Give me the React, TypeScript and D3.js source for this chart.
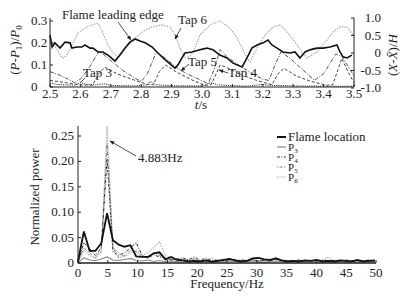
import React from "react";
import * as d3 from "d3";

// ---------- Top chart data ----------
const timeTicks = [2.5, 2.6, 2.7, 2.8, 2.9, 3.0, 3.1, 3.2, 3.3, 3.4, 3.5];
const leftTicks = [0, 0.1, 0.2, 0.3];
const rightTicks = [-1, -0.5, 0, 0.5, 1];

const flameT = [2.5, 2.507, 2.516, 2.533, 2.549, 2.566, 2.572, 2.589, 2.605, 2.615, 2.632, 2.641, 2.658, 2.674, 2.691, 2.714, 2.73, 2.747, 2.763, 2.78, 2.796, 2.813, 2.836, 2.855, 2.872, 2.888, 2.911, 2.921, 2.934, 2.944, 2.967, 2.993, 3.016, 3.036, 3.059, 3.082, 3.102, 3.132, 3.148, 3.164, 3.181, 3.201, 3.217, 3.23, 3.247, 3.266, 3.289, 3.306, 3.322, 3.339, 3.355, 3.378, 3.398, 3.421, 3.444, 3.454, 3.464, 3.477, 3.493];
const flameX = [0.51, 0.17, 0.29, 0.14, 0.31, 0.29, 0.14, 0.17, 0.17, 0.23, 0.14, 0.14, 0.03, 0.03, -0.06, -0.23, -0.06, 0.14, 0.31, 0.4, 0.34, 0.29, 0.17, 0.0, -0.14, -0.26, -0.43, -0.34, -0.14, 0.0, 0.03, 0.09, 0.14, 0.09, -0.06, -0.14, -0.29, -0.4, -0.14, 0.14, 0.23, 0.29, 0.37, 0.23, 0.14, 0.03, 0.0, 0.03, -0.14, 0.03, 0.09, 0.14, 0.14, 0.17, 0.23, 0.03, -0.11, -0.14, -0.06];

const tap6T = [2.5, 2.52, 2.54, 2.553, 2.572, 2.592, 2.615, 2.638, 2.658, 2.674, 2.691, 2.707, 2.724, 2.747, 2.78, 2.813, 2.836, 2.868, 2.895, 2.911, 2.928, 2.944, 2.961, 2.977, 2.993, 3.026, 3.059, 3.092, 3.115, 3.132, 3.148, 3.158, 3.181, 3.207, 3.234, 3.257, 3.28, 3.306, 3.329, 3.345, 3.378, 3.411, 3.431, 3.454, 3.477, 3.497];
const tap6P = [0.227, 0.177, 0.132, 0.14, 0.19, 0.245, 0.268, 0.282, 0.291, 0.245, 0.19, 0.155, 0.136, 0.177, 0.223, 0.259, 0.273, 0.282, 0.273, 0.236, 0.177, 0.132, 0.14, 0.177, 0.236, 0.282, 0.3, 0.268, 0.223, 0.177, 0.132, 0.114, 0.177, 0.236, 0.273, 0.282, 0.25, 0.205, 0.159, 0.132, 0.159, 0.214, 0.25, 0.273, 0.273, 0.236];

const tap5T = [2.5, 2.53, 2.56, 2.58, 2.6, 2.63, 2.66, 2.67, 2.7, 2.74, 2.78, 2.8, 2.82, 2.85, 2.88, 2.92, 2.95, 2.99, 3.02, 3.04, 3.06, 3.08, 3.12, 3.16, 3.2, 3.22, 3.24, 3.26, 3.29, 3.33, 3.37, 3.4, 3.44, 3.46, 3.5];
const tap5P = [0.07, 0.055, 0.035, 0.02, 0.035, 0.09, 0.16, 0.155, 0.12, 0.075, 0.04, 0.025, 0.06, 0.16, 0.13, 0.085, 0.06, 0.035, 0.015, 0.08, 0.17, 0.14, 0.1, 0.065, 0.035, 0.03, 0.1, 0.16, 0.13, 0.08, 0.03, 0.06, 0.15, 0.14, 0.05];

const tap4T = [2.5, 2.55, 2.6, 2.64, 2.66, 2.68, 2.72, 2.77, 2.82, 2.84, 2.86, 2.88, 2.92, 2.97, 3.01, 3.03, 3.06, 3.08, 3.13, 3.18, 3.23, 3.25, 3.27, 3.31, 3.36, 3.41, 3.43, 3.46, 3.48, 3.5];
const tap4P = [0.03, 0.02, 0.01, 0.008, 0.06, 0.09, 0.06, 0.035, 0.012, 0.01, 0.07, 0.1, 0.065, 0.03, 0.008, 0.01, 0.1, 0.09, 0.055, 0.03, 0.01, 0.06, 0.085, 0.05, 0.025, 0.008, 0.01, 0.13, 0.07, 0.02];

const tap3T = [2.5, 2.52, 2.55, 2.58, 2.6, 2.62, 2.65, 2.68, 2.7, 2.74, 2.78, 2.82, 2.83, 2.85, 2.9, 2.95, 3.0, 3.03, 3.05, 3.1, 3.15, 3.2, 3.22, 3.3, 3.35, 3.4, 3.45, 3.5];
const tap3P = [0.02, 0.012, 0.01, 0.008, 0.02, 0.012, 0.01, 0.015, 0.008, 0.006, 0.005, 0.01, 0.025, 0.01, 0.006, 0.005, 0.005, 0.02, 0.01, 0.006, 0.004, 0.012, 0.008, 0.005, 0.004, 0.004, 0.003, 0.004];

// ---------- Bottom chart data ----------
const freqTicks = [0, 5, 10, 15, 20, 25, 30, 35, 40, 45, 50];
const powerTicks = [0, 0.05, 0.1, 0.15, 0.2, 0.25];
const freqs = [0, 0.98, 1.95, 2.93, 3.91, 4.88, 5.86, 6.84, 7.81, 8.79, 9.77, 10.74, 11.72, 12.7, 13.67, 14.65, 15.63, 16.6, 17.58, 18.55, 19.53, 20.51, 21.48, 22.46, 23.44, 24.41, 25.39, 26.37, 27.34, 28.32, 29.3, 30.27, 31.25, 32.23, 33.2, 34.18, 35.16, 36.13, 37.11, 38.09, 39.06, 40.04, 41.02, 41.99, 42.97, 43.95, 44.92, 45.9, 46.88, 47.85, 48.83, 49.8];
const flamePow = [0.003, 0.062, 0.024, 0.024, 0.039, 0.098, 0.045, 0.036, 0.032, 0.035, 0.013, 0.012, 0.012, 0.019, 0.021, 0.007, 0.012, 0.006, 0.005, 0.003, 0.004, 0.003, 0.005, 0.002, 0.004, 0.006, 0.008, 0.005, 0.003, 0.004, 0.009, 0.01, 0.007, 0.006, 0.009, 0.005, 0.003, 0.004, 0.003, 0.005, 0.004, 0.006, 0.003, 0.004, 0.003, 0.005, 0.004, 0.003, 0.006, 0.003, 0.004, 0.005];
const p3Pow = [0.001, 0.01, 0.006, 0.005, 0.008, 0.012, 0.006, 0.005, 0.007, 0.009, 0.005, 0.004, 0.006, 0.003, 0.005, 0.003, 0.004, 0.003, 0.002, 0.003, 0.002, 0.003, 0.002, 0.003, 0.002, 0.003, 0.004, 0.003, 0.002, 0.003, 0.004, 0.003, 0.002, 0.003, 0.004, 0.003, 0.002, 0.002, 0.003, 0.002, 0.003, 0.002, 0.003, 0.002, 0.002, 0.003, 0.002, 0.003, 0.002, 0.002, 0.003, 0.002];
const p4Pow = [0.002, 0.04, 0.028, 0.015, 0.03, 0.205, 0.022, 0.015, 0.02, 0.03, 0.04, 0.015, 0.01, 0.016, 0.012, 0.01, 0.006, 0.008, 0.01, 0.006, 0.012, 0.005, 0.01, 0.004, 0.006, 0.005, 0.008, 0.004, 0.006, 0.005, 0.007, 0.004, 0.006, 0.005, 0.008, 0.004, 0.005, 0.004, 0.006, 0.004, 0.005, 0.004, 0.006, 0.004, 0.005, 0.004, 0.006, 0.004, 0.005, 0.004, 0.006, 0.004];
const p5Pow = [0.001, 0.03, 0.02, 0.01, 0.022, 0.235, 0.03, 0.01, 0.015, 0.025, 0.022, 0.012, 0.01, 0.02, 0.015, 0.008, 0.006, 0.007, 0.005, 0.006, 0.008, 0.004, 0.006, 0.005, 0.004, 0.006, 0.005, 0.007, 0.004, 0.005, 0.006, 0.004, 0.005, 0.004, 0.007, 0.005, 0.004, 0.003, 0.005, 0.004, 0.004, 0.005, 0.003, 0.004, 0.005, 0.003, 0.004, 0.005, 0.003, 0.004, 0.005, 0.003];
const p6Pow = [0.002, 0.025, 0.015, 0.01, 0.03, 0.27, 0.03, 0.02, 0.012, 0.02, 0.025, 0.015, 0.02, 0.03, 0.042, 0.015, 0.01, 0.008, 0.006, 0.005, 0.006, 0.005, 0.004, 0.01, 0.004, 0.005, 0.006, 0.004, 0.005, 0.004, 0.006, 0.004, 0.005, 0.004, 0.011, 0.004, 0.003, 0.004, 0.003, 0.004, 0.003, 0.004, 0.003, 0.012, 0.003, 0.004, 0.003, 0.004, 0.003, 0.004, 0.003, 0.004];

const FONT = "'Liberation Serif', 'Times New Roman', serif";

export default function App() {
  const xT = d3.scaleLinear().domain([2.5, 3.5]).range([50, 354]);
  const yL = d3.scaleLinear().domain([0, 0.3]).range([87, 21]);
  const yR = d3.scaleLinear().domain([-1, 1]).range([88, 18]);

  const xB = d3.scaleLinear().domain([0, 50]).range([78, 376]);
  const yB = d3.scaleLinear().domain([0, 0.25]).range([263, 136]);

  const lineL = (ts: number[], vs: number[]) =>
    d3.line<number>().x((_, i) => xT(ts[i])).y((v) => yL(v))(vs) || "";
  const lineR = (ts: number[], vs: number[]) =>
    d3.line<number>().x((_, i) => xT(ts[i])).y((v) => yR(v))(vs) || "";
  const lineB = (vs: number[]) =>
    d3.line<number>().x((_, i) => xB(freqs[i])).y((v) => yB(v))(vs) || "";

  const legend = [
    { label: "Flame location", sub: "", stroke: "#111", w: 2, dash: "", fs: 13 },
    { label: "P", sub: "3", stroke: "#888", w: 1.2, dash: "", fs: 11 },
    { label: "P", sub: "4", stroke: "#333", w: 1, dash: "3,1.5,1,1.5", fs: 11 },
    { label: "P", sub: "5", stroke: "#777", w: 1, dash: "1,1.5,3,1.5", fs: 11 },
    { label: "P", sub: "6", stroke: "#999", w: 1, dash: "1,1.5", fs: 11 },
  ];

  return (
    <svg
      width={407}
      height={299}
      style={{ position: "absolute", left: 0, top: 0, background: "#fff" }}
      fontFamily={FONT}
    >
      <defs>
        <marker id="arr" viewBox="0 0 10 10" refX="9" refY="5" markerWidth="6" markerHeight="6" orient="auto">
          <path d="M0,1 L10,5 L0,9 z" fill="#222" />
        </marker>
      </defs>

      {/* ---------------- Top chart ---------------- */}
      <g fill="none">
        <path d={lineL(tap3T, tap3P)} stroke="#333" strokeWidth={1} strokeDasharray="1.2,1" />
        <path d={lineL(tap4T, tap4P)} stroke="#444" strokeWidth={1} strokeDasharray="3,2" />
        <path d={lineL(tap5T, tap5P)} stroke="#555" strokeWidth={1} strokeDasharray="4,1.5,1,1.5" />
        <path d={lineL(tap6T, tap6P)} stroke="#aaa" strokeWidth={1.2} strokeDasharray="1.5,1.2" />
        <path d={lineR(flameT, flameX)} stroke="#111" strokeWidth={1.6} />
      </g>
      {/* axes */}
      <g stroke="#222" strokeWidth={1}>
        <line x1={50} x2={50} y1={18} y2={87} />
        <line x1={354} x2={354} y1={18} y2={87} />
        <line x1={50} x2={354} y1={87} y2={87} />
        {leftTicks.map((t) => (
          <line key={"lt" + t} x1={50} x2={53} y1={yL(t)} y2={yL(t)} />
        ))}
        {rightTicks.map((t) => (
          <line key={"rt" + t} x1={351} x2={354} y1={yR(t)} y2={yR(t)} />
        ))}
        {timeTicks.map((t) => (
          <line key={"bt" + t} x1={xT(t)} x2={xT(t)} y1={87} y2={84} />
        ))}
      </g>
      <g fontSize={13} fill="#222">
        {leftTicks.map((t) => (
          <text key={"ll" + t} x={31} y={yL(t) + 4} textAnchor="start">
            {t === 0 ? "0" : d3.format(".1f")(t)}
          </text>
        ))}
        {rightTicks.map((t) => (
          <text key={"rl" + t} x={381} y={yR(t) + 4} textAnchor="end">
            {t === 0 ? "0" : d3.format(".1f")(t).replace("−", "-")}
          </text>
        ))}
        {timeTicks.map((t) => (
          <text key={"tl" + t} x={xT(t)} y={98} textAnchor="middle">
            {d3.format(".1f")(t)}
          </text>
        ))}
        <text x={201} y={109} textAnchor="middle">
          <tspan fontStyle="italic">t</tspan>/s
        </text>
        <text transform="translate(19,50) rotate(-90)" textAnchor="middle">
          (<tspan fontStyle="italic">P</tspan>-<tspan fontStyle="italic">P</tspan>
          <tspan fontSize={9} dy={3}>1</tspan>
          <tspan dy={-3}>)/</tspan>
          <tspan fontStyle="italic">P</tspan>
          <tspan fontSize={9} dy={3}>0</tspan>
        </text>
        <text transform="translate(397,55) rotate(-90)" textAnchor="middle">
          (<tspan fontStyle="italic">X</tspan>-<tspan fontStyle="italic">X&#772;</tspan>)/<tspan fontStyle="italic">H</tspan>
        </text>

        {/* annotations */}
        <text x={62} y={19}>Flame leading edge</text>
        <text x={178} y={24}>Tap 6</text>
        <text x={188} y={66}>Tap 5</text>
        <text x={228} y={77}>Tap 4</text>
        <text x={83} y={77}>Tap 3</text>
      </g>
      <g stroke="#222" strokeWidth={0.8}>
        <line x1={118} y1={22} x2={131} y2={40} markerEnd="url(#arr)" />
        <line x1={181} y1={28} x2={175} y2={39} markerEnd="url(#arr)" />
        <line x1={189} y1={64} x2={181} y2={71} markerEnd="url(#arr)" />
        <line x1={228} y1={73} x2={219} y2={70} markerEnd="url(#arr)" />
        <line x1={85} y1={78} x2={80} y2={83} />
      </g>

      {/* ---------------- Bottom chart ---------------- */}
      <g fill="none">
        <path d={lineB(p3Pow)} stroke="#888" strokeWidth={1.1} />
        <path d={lineB(p6Pow)} stroke="#aaa" strokeWidth={1.1} strokeDasharray="1.5,1.2" />
        <path d={lineB(p5Pow)} stroke="#777" strokeWidth={1} strokeDasharray="1,1.5,3,1.5" />
        <path d={lineB(p4Pow)} stroke="#333" strokeWidth={1} strokeDasharray="3,1.5,1,1.5" />
        <path d={lineB(flamePow)} stroke="#111" strokeWidth={1.8} />
      </g>
      <g stroke="#222" strokeWidth={1}>
        <line x1={78} x2={78} y1={126} y2={263} />
        <line x1={78} x2={376} y1={263} y2={263} strokeWidth={1.4} />
        {powerTicks.map((t) => (
          <line key={"pt" + t} x1={78} x2={81} y1={yB(t)} y2={yB(t)} />
        ))}
        {freqTicks.map((t) => (
          <line key={"ft" + t} x1={xB(t)} x2={xB(t)} y1={263} y2={260} />
        ))}
      </g>
      <g fontSize={13} fill="#222">
        {powerTicks.map((t) => (
          <text key={"pl" + t} x={74} y={yB(t) + 4} textAnchor="end">
            {t === 0 ? "0" : d3.format(".2f")(t)}
          </text>
        ))}
        {freqTicks.map((t) => (
          <text key={"fl" + t} x={xB(t)} y={277} textAnchor="middle">
            {t}
          </text>
        ))}
        <text x={227} y={288} textAnchor="middle">Frequency/Hz</text>
        <text transform="translate(39,197) rotate(-90)" textAnchor="middle">
          Normalized power
        </text>
        <text x={138} y={162}>4.883Hz</text>
      </g>
      <line x1={136} y1={156} x2={110} y2={141} stroke="#222" strokeWidth={0.8} markerEnd="url(#arr)" />

      {/* legend */}
      <g>
        {legend.map((l, i) => (
          <g key={l.label + l.sub}>
            <line
              x1={277}
              x2={286}
              y1={137 + i * 10}
              y2={137 + i * 10}
              stroke={l.stroke}
              strokeWidth={l.w}
              strokeDasharray={l.dash}
            />
            <text x={288} y={141 + i * 10} fontSize={l.fs} fill="#222">
              {l.label}
              {l.sub && (
                <tspan fontSize={7} dy={2}>
                  {l.sub}
                </tspan>
              )}
            </text>
          </g>
        ))}
      </g>
    </svg>
  );
}
